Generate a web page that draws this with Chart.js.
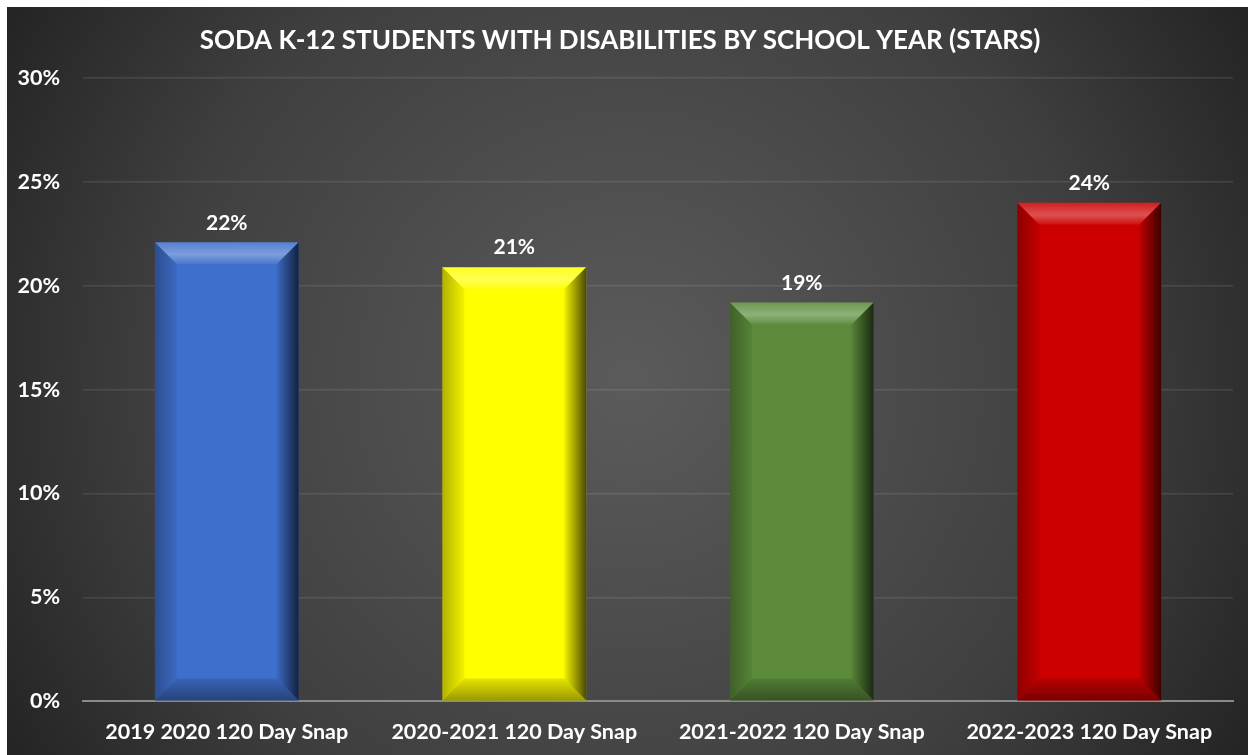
<!DOCTYPE html>
<html>
<head>
<meta charset="utf-8">
<script src="https://cdn.jsdelivr.net/npm/chart.js@4.4.0/dist/chart.umd.min.js"></script>
<style>
  body { margin: 0; background: #fff; overflow: hidden; }
  #wrap { position: absolute; left: 7px; top: 7px; width: 1241px; height: 748px; }
</style>
</head>
<body>
<div id="wrap"><canvas id="chart"></canvas></div>
<script>
const years = ['2019 2020 120 Day Snap', '2020-2021 120 Day Snap', '2021-2022 120 Day Snap', '2022-2023 120 Day Snap'];
const shares = [22.1, 20.9, 19.2, 24.0];
const shareLabels = ['22%', '21%', '19%', '24%'];
const barColors = ['#3f6fcc', '#ffff00', '#5a8a3a', '#cc0000'];
const yTicks = [0, 5, 10, 15, 20, 25, 30];

const font = 'Lato, "Open Sans", sans-serif';

// dark radial backdrop
const backdrop = {
  id: 'backdrop',
  beforeDraw(chart) {
    const { ctx, width, height } = chart;
    const g = ctx.createRadialGradient(width * 0.5, height * 0.5, 20, width * 0.5, height * 0.5, width * 0.62);
    g.addColorStop(0, '#5a5a5a');
    g.addColorStop(0.6, '#3f3f3f');
    g.addColorStop(1, '#1f1f1f');
    ctx.save();
    ctx.fillStyle = g;
    ctx.fillRect(0, 0, width, height);
    ctx.restore();
  }
};

// bevelled look on top of each bar, plus the value labels
const bevel = {
  id: 'bevel',
  afterDatasetsDraw(chart) {
    const { ctx } = chart;
    const meta = chart.getDatasetMeta(0);
    meta.data.forEach((bar, i) => {
      const l = bar.x - bar.width / 2, r = bar.x + bar.width / 2;
      const t = bar.y, b = bar.base;
      const s = 22;
      ctx.save();
      // top face
      let g = ctx.createLinearGradient(0, t, 0, t + s);
      g.addColorStop(0, 'rgba(255,255,255,0.12)');
      g.addColorStop(0.55, 'rgba(255,255,255,0.32)');
      g.addColorStop(1, 'rgba(255,255,255,0.05)');
      ctx.fillStyle = g;
      ctx.beginPath();
      ctx.moveTo(l, t); ctx.lineTo(r, t); ctx.lineTo(r - s, t + s); ctx.lineTo(l + s, t + s);
      ctx.closePath(); ctx.fill();
      // right face
      g = ctx.createLinearGradient(r - s, 0, r, 0);
      g.addColorStop(0, 'rgba(0,0,0,0.05)');
      g.addColorStop(1, 'rgba(0,0,0,0.7)');
      ctx.fillStyle = g;
      ctx.beginPath();
      ctx.moveTo(r, t); ctx.lineTo(r, b); ctx.lineTo(r - s, b - s); ctx.lineTo(r - s, t + s);
      ctx.closePath(); ctx.fill();
      // left face
      g = ctx.createLinearGradient(l, 0, l + s, 0);
      g.addColorStop(0, 'rgba(0,0,0,0.3)');
      g.addColorStop(1, 'rgba(0,0,0,0.05)');
      ctx.fillStyle = g;
      ctx.beginPath();
      ctx.moveTo(l, t); ctx.lineTo(l + s, t + s); ctx.lineTo(l + s, b - s); ctx.lineTo(l, b);
      ctx.closePath(); ctx.fill();
      // bottom face
      g = ctx.createLinearGradient(0, b - s, 0, b);
      g.addColorStop(0, 'rgba(0,0,0,0.1)');
      g.addColorStop(1, 'rgba(0,0,0,0.4)');
      ctx.fillStyle = g;
      ctx.beginPath();
      ctx.moveTo(l, b); ctx.lineTo(l + s, b - s); ctx.lineTo(r - s, b - s); ctx.lineTo(r, b);
      ctx.closePath(); ctx.fill();

      ctx.fillStyle = '#ffffff';
      ctx.font = 'bold 21px ' + font;
      ctx.textAlign = 'center';
      ctx.textBaseline = 'bottom';
      ctx.fillText(shareLabels[i], bar.x, t - 9);
      ctx.restore();
    });
  }
};

new Chart(document.getElementById('chart'), {
  type: 'bar',
  data: {
    labels: years,
    datasets: [{
      data: shares,
      backgroundColor: barColors,
      borderWidth: 0,
      barPercentage: 0.5,
      categoryPercentage: 1
    }]
  },
  options: {
    responsive: true,
    maintainAspectRatio: false,
    animation: false,
    layout: { padding: { left: 0, right: 15, top: 18, bottom: 0 } },
    plugins: {
      legend: { display: false },
      tooltip: { enabled: false },
      title: {
        display: true,
        text: 'SODA K-12 STUDENTS WITH DISABILITIES BY SCHOOL YEAR (STARS)',
        color: '#ffffff',
        font: { family: font, size: 26, weight: 'bold' },
        padding: { top: 0, bottom: 22 }
      }
    },
    scales: {
      x: {
        grid: { display: false },
        border: { color: '#8a8a8a', width: 2 },
        ticks: { color: '#ffffff', font: { family: font, size: 21.5, weight: 'bold' }, padding: 10, maxRotation: 0 }
      },
      y: {
        min: 0,
        max: 30,
        afterFit(scale) { scale.width = 76; },
        afterBuildTicks(scale) { scale.ticks = yTicks.map(v => ({ value: v })); },
        border: { display: false },
        grid: { color: ctx => ctx.tick.value === 0 ? 'rgba(0,0,0,0)' : 'rgba(255,255,255,0.1)', lineWidth: 1.5, drawTicks: false },
        ticks: { color: '#ffffff', font: { family: font, size: 21.5, weight: 'bold' }, padding: 23, callback: v => v + '%' }
      }
    }
  },
  plugins: [backdrop, bevel]
});
</script>
</body>
</html>
